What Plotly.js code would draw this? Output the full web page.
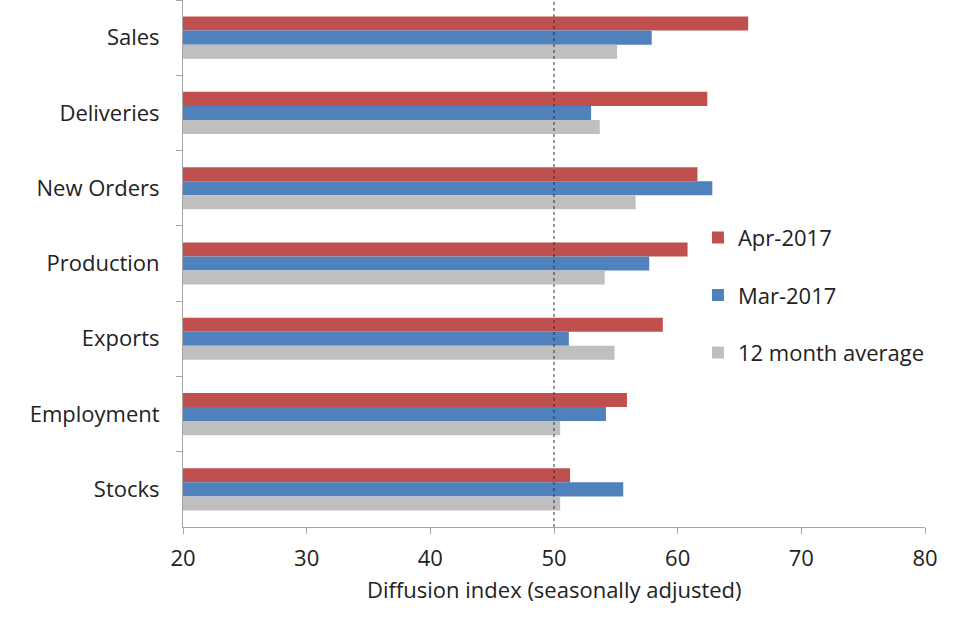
<!DOCTYPE html>
<html>
<head>
<meta charset="utf-8">
<script src="https://cdn.plot.ly/plotly-3.0.1.min.js"></script>
<style>html,body{margin:0;padding:0;background:#fff;}#chart{width:962px;height:621px;}</style>
</head>
<body>
<div id="chart"></div>
<script>
const categories = ["Sales", "Deliveries", "New Orders", "Production", "Exports", "Employment", "Stocks"];
const apr2017 = [65.7, 62.4, 61.6, 60.8, 58.8, 55.9, 51.3];
const mar2017 = [57.9, 53.0, 62.8, 57.7, 51.2, 54.2, 55.6];
const avg12m = [55.1, 53.7, 56.6, 54.1, 54.9, 50.5, 50.5];
const seriesNames = ["Apr-2017", "Mar-2017", "12 month average"];
const xTicks = [20, 30, 40, 50, 60, 70, 80];
const xTitle = "Diffusion index (seasonally adjusted)";
const refLine = 50;
const axisMin = 20;

const colors = ["#C0504D", "#4F81BD", "#BFBFBF"];
const vals = [apr2017, mar2017, avg12m];
const font = "'Open Sans', sans-serif";
const fs = 22;

const traces = vals.map((v, i) => ({
  type: "bar",
  orientation: "h",
  y: categories,
  x: v.map(d => d - axisMin),
  base: axisMin,
  name: seriesNames[i],
  legendgroup: "g" + i,
  marker: {color: colors[i], line: {width: 0}},
  hoverinfo: "x+name"
}));

const layout = {
  width: 962, height: 621,
  margin: {l: 183, r: 37, t: 0, b: 94},
  paper_bgcolor: "#fff", plot_bgcolor: "#fff",
  barmode: "group",
  bargap: 0.44,
  bargroupgap: 0,
  font: {family: font, size: fs, color: "#222"},
  showlegend: true,
  legend: {
    x: 0.694, y: 0.589, xanchor: "left", yanchor: "top",
    font: {family: font, size: fs, color: "#222"},
    tracegroupgap: 26,
    itemwidth: 30,
    bgcolor: "rgba(0,0,0,0)"
  },
  xaxis: {
    range: [20, 80],
    tickvals: xTicks,
    ticktext: xTicks.map(String),
    showgrid: false, zeroline: false,
    showline: true, linecolor: "#A6A6A6", linewidth: 1,
    ticks: "outside", ticklen: 6, tickcolor: "#A6A6A6",
    tickfont: {family: font, size: fs, color: "#222"},
    ticklabelstandoff: 6,
    fixedrange: true
  },
  yaxis: {
    type: "category",
    autorange: "reversed",
    showgrid: false, zeroline: false,
    showline: true, linecolor: "#A6A6A6", linewidth: 1,
    ticks: "outside", ticklen: 6, tickcolor: "#A6A6A6",
    tickson: "boundaries",
    tickfont: {family: font, size: fs, color: "#222"},
    ticklabelstandoff: 18,
    fixedrange: true
  },
  annotations: [{
    text: xTitle, xref: "paper", yref: "paper",
    x: 0.5, y: -0.118, xanchor: "center", yanchor: "middle",
    showarrow: false, font: {family: font, size: fs, color: "#222"}
  }],
  shapes: [{
    type: "line", xref: "x", yref: "paper",
    x0: refLine, x1: refLine, y0: 0, y1: 1,
    line: {color: "#333", width: 1, dash: "dot"}
  }]
};

Plotly.newPlot("chart", traces, layout, {displayModeBar: false, staticPlot: true});
</script>
</body>
</html>
